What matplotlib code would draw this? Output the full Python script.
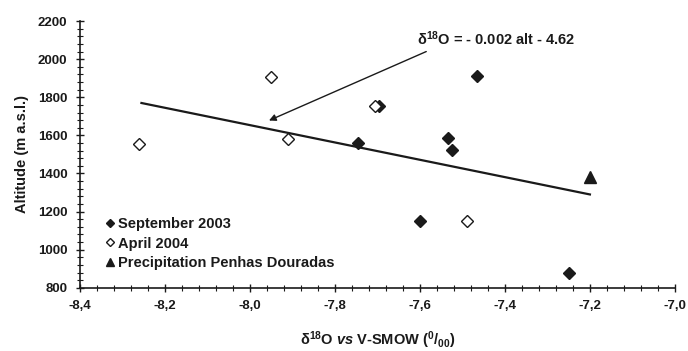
import numpy as np
import matplotlib
matplotlib.use('Agg')
import matplotlib.pyplot as plt
from matplotlib.ticker import MultipleLocator, FuncFormatter

plt.rcParams['font.family'] = ['Liberation Sans', 'DejaVu Sans']
plt.rcParams['font.weight'] = 'bold'
plt.rcParams['axes.labelweight'] = 'bold'
plt.rcParams['mathtext.fontset'] = 'custom'
plt.rcParams['mathtext.rm'] = 'Liberation Sans:bold'
plt.rcParams['mathtext.it'] = 'Liberation Sans:bold:italic'
plt.rcParams['mathtext.bf'] = 'Liberation Sans:bold'

# data
sep_d18o = [-7.465, -7.695, -7.745, -7.535, -7.525, -7.600, -7.250]
sep_alt = [1910, 1755, 1560, 1585, 1525, 1150, 880]

apr_d18o = [-8.26, -7.95, -7.91, -7.705, -7.49]
apr_alt = [1555, 1905, 1580, 1755, 1150]

prec_d18o = [-7.20]
prec_alt = [1380]

trend_x = [-8.255, -7.20]
trend_y = [1770, 1290]

eq_text = u'\u03b4$^{18}$O = - 0.002 alt - 4.62'
eq_pos = (-7.42, 2105)
arrow_tail = (-7.585, 2040)
arrow_head = (-7.955, 1678)

ink = '#1a1a1a'

fig = plt.figure(figsize=(6.88, 3.51), dpi=100)
ax = fig.add_axes([0.116, 0.18, 0.865, 0.76])

ax.plot(trend_x, trend_y, '-', color=ink, lw=1.6, zorder=2)
ax.plot(sep_d18o, sep_alt, 'D', color=ink, ms=6, label='September 2003', zorder=3)
ax.plot(apr_d18o, apr_alt, 'D', mfc='white', mec=ink, mew=1.0, ms=6,
        label='April 2004', zorder=3)
ax.plot(prec_d18o, prec_alt, '^', color=ink, ms=8,
        label='Precipitation Penhas Douradas', zorder=3)

ax.annotate('', xy=arrow_head, xytext=arrow_tail,
            arrowprops=dict(arrowstyle='-|>', color=ink, lw=1.0,
                            mutation_scale=10, shrinkA=0, shrinkB=0))
ax.text(eq_pos[0], eq_pos[1], eq_text, ha='center', va='center',
        fontsize=10.5, color=ink)

ax.set_xlim(-8.4, -7.0)
ax.set_ylim(800, 2200)
ax.xaxis.set_major_locator(MultipleLocator(0.2))
ax.xaxis.set_minor_locator(MultipleLocator(0.04))
ax.yaxis.set_major_locator(MultipleLocator(200))
ax.yaxis.set_minor_locator(MultipleLocator(40))
ax.xaxis.set_major_formatter(FuncFormatter(lambda v, p: ('%.1f' % v).replace('.', ',')))
ax.yaxis.set_major_formatter(FuncFormatter(lambda v, p: '%d' % v))

for s in ['top', 'right']:
    ax.spines[s].set_visible(False)
for s in ['left', 'bottom']:
    ax.spines[s].set_color(ink)
    ax.spines[s].set_linewidth(1.2)

ax.tick_params(which='major', direction='inout', length=6, width=1.0,
               color=ink, labelsize=9.5, labelcolor=ink, pad=6)
ax.tick_params(which='minor', direction='inout', length=4, width=0.8, color=ink)

ax.set_xlabel(u'\u03b4$^{18}$O $\\it{vs}$ V-SMOW ($^{0}/_{00}$)',
              fontsize=10.5, color=ink, labelpad=12)
ax.set_ylabel('Altitude (m a.s.l.)', fontsize=10.5, color=ink, labelpad=6)

ax.legend(loc='lower left', bbox_to_anchor=(0.028, 0.03), frameon=False,
          fontsize=10.5, handlelength=0.5, handletextpad=0.25, labelspacing=0.35,
          borderpad=0.2, labelcolor=ink, markerscale=0.7)

fig.savefig('out.png', dpi=100)
